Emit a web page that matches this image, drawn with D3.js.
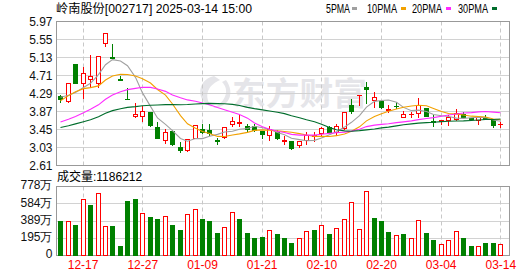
<!DOCTYPE html>
<html>
<head>
<meta charset="utf-8">
<script src="https://cdn.jsdelivr.net/npm/d3@7"></script>
<style>
  body { margin: 0; background: #fff; }
  svg { display: block; font-family: "Liberation Sans", "Noto Sans CJK SC", sans-serif; }
</style>
</head>
<body>
<div id="chart"></div>
<script>
// trading days shown (Dec 2024 - Mar 2025)
const dates = ["12-12","12-13","12-16","12-17","12-18","12-19","12-20","12-23","12-24","12-25",
  "12-26","12-27","12-30","12-31","01-02","01-03","01-06","01-07","01-08","01-09",
  "01-10","01-13","01-14","01-15","01-16","01-17","01-20","01-21","01-22","01-23",
  "01-24","01-27","02-05","02-06","02-07","02-10","02-11","02-12","02-13","02-14",
  "02-17","02-18","02-19","02-20","02-21","02-24","02-25","02-26","02-27","02-28",
  "03-03","03-04","03-05","03-06","03-07","03-10","03-11","03-12","03-13","03-14"];

const open  = [4.21,4.10,4.96,4.52,4.62,4.52,5.45,5.13,4.62,4.16, 3.76,3.76,3.84,3.50,3.19,3.41,3.03,2.95,3.25,3.44,
  3.42,3.19,3.27,3.57,3.58,3.53,3.51,3.40,3.32,3.38, 3.18,3.18,3.07,3.19,3.29,3.36,3.50,3.38,3.47,4.02,
  4.25,4.42,4.13,4.10,3.90,3.99,3.73,3.80,3.82,3.93, 3.63,3.64,3.67,3.68,3.80,3.70,3.65,3.72,3.65,3.56];
const high  = [4.26,4.54,5.00,4.92,5.20,5.16,5.68,5.45,4.72,4.44, 4.08,4.02,3.85,3.63,3.48,3.44,3.17,3.23,3.56,3.59,
  3.59,3.27,3.50,3.76,3.79,3.59,3.59,3.42,3.55,3.45, 3.31,3.19,3.19,3.41,3.41,3.51,3.54,3.59,3.85,4.17,
  4.25,4.58,4.34,4.10,4.03,4.10,3.90,3.88,4.19,3.95, 3.79,3.69,3.79,3.94,3.86,3.71,3.72,3.79,3.65,3.63];
const low   = [4.09,4.08,4.52,4.17,4.44,4.43,5.39,5.11,4.60,4.14, 3.72,3.63,3.51,3.24,3.13,3.07,2.92,2.93,3.24,3.35,
  3.32,3.09,3.25,3.51,3.51,3.40,3.40,3.25,3.19,3.21, 3.09,2.99,3.04,3.11,3.18,3.32,3.36,3.32,3.45,3.83,
  4.00,4.06,3.96,3.95,3.85,3.93,3.73,3.73,3.73,3.75, 3.51,3.57,3.55,3.66,3.70,3.66,3.57,3.68,3.50,3.50];
const close = [4.14,4.53,4.52,4.76,4.69,5.16,5.68,5.11,4.60,4.14, 3.80,3.87,3.54,3.25,3.38,3.09,2.95,3.22,3.55,3.38,
  3.36,3.17,3.50,3.63,3.62,3.45,3.42,3.34,3.45,3.25, 3.19,3.00,3.18,3.31,3.30,3.48,3.38,3.52,3.85,3.86,
  4.25,4.38,4.19,3.96,3.91,3.98,3.79,3.81,4.02,3.75, 3.62,3.65,3.73,3.83,3.72,3.69,3.72,3.68,3.55,3.57];
// volume, in 万 shares
const volume = [378,386,334,633,569,700,330,323,106,610, 633,476,431,401,442,334,277,461,517,408,
  386,252,315,483,408,252,196,207,282,241, 196,140,192,271,286,338,241,305,405,599,
  293,719,420,386,255,226,241,192,394,244, 173,129,173,274,196,106,103,140,140,118.6212];
// closes of the 29 sessions before the window, needed for the moving averages
const priorCloses = [3.23,3.25,3.23,3.26,3.18,3.24,3.20,3.28,3.22,3.25,
  3.25,3.20,3.06,3.10,3.05,3.08,3.12,3.10,3.15,3.20,
  3.34,3.60,4.05,4.45,4.75,4.30,4.20,4.18,4.20];

const priceTicks = [2.61, 3.03, 3.45, 3.87, 4.29, 4.71, 5.13, 5.55, 5.97];
const volTicks = [0, 194.5, 389, 583.5, 778];
const volTickLabels = ["0", "195万", "389万", "584万", "778万"];
const dateTicks = ["12-17","12-27","01-09","01-21","02-10","02-20","03-04","03-14"];
const maPeriods = [5, 10, 20, 30];
const maColors = ["#a0a0a0", "#f2a100", "#ff2bff", "#006d2c"];

const title = "岭南股份[002717] 2025-03-14 15:00";
const lastVolume = "成交量:1186212";

const W = 530, H = 276;
const left = 56.5, right = 509.5;
const priceTop = 21.5, priceBottom = 165.5;
const volTop = 186.5, volBottom = 255.5;
const Up = "#ff0000", Down = "#008000";

const svg = d3.select("#chart").append("svg")
    .attr("width", W)
    .attr("height", H);

const x = d3.scaleBand().domain(dates).range([57, 504.6]);
const y = d3.scaleLinear().domain([2.61, 5.97]).range([priceBottom, priceTop]);
const yv = d3.scaleLinear().domain([0, 778]).range([volBottom, volTop]);

const cx = d => Math.floor(x(d) + x.bandwidth() / 2) + 0.5;
const snap = v => Math.round(v - 0.5) + 0.5;

// watermark
const wm = svg.append("g").attr("fill", "#e5e5e9");
wm.append("path")
    .attr("d", "M214,76 C196,80 196,102 212,107 C204,98 206,86 220,80 Z M222,82 C230,90 226,102 213,108 C228,108 236,94 226,80 Z");
wm.append("text")
    .attr("x", 232).attr("y", 105)
    .attr("font-family", "Noto Sans CJK SC")
    .attr("font-weight", "bold")
    .attr("font-size", 32)
    .attr("textLength", 135)
    .attr("lengthAdjust", "spacingAndGlyphs")
    .text("东方财富");

// horizontal grid
svg.append("g").selectAll("line")
    .data(priceTicks).enter().append("line")
        .attr("x1", left).attr("x2", right)
        .attr("y1", d => snap(y(d))).attr("y2", d => snap(y(d)))
        .attr("stroke", "#d2d2d2");

svg.append("g").selectAll("line")
    .data(volTicks).enter().append("line")
        .attr("x1", left).attr("x2", right)
        .attr("y1", d => snap(yv(d))).attr("y2", d => snap(yv(d)))
        .attr("stroke", "#d2d2d2");

// vertical dashed grid
[[priceTop, priceBottom], [volTop, volBottom]].forEach(([t, b]) => {
    svg.append("g").selectAll("line")
        .data(dateTicks).enter().append("line")
            .attr("x1", cx).attr("x2", cx)
            .attr("y1", t).attr("y2", b)
            .attr("stroke", "#c8c8c8")
            .attr("stroke-dasharray", "4,3");
});

// frames
[[priceTop, priceBottom], [volTop, volBottom]].forEach(([t, b]) => {
    svg.append("rect")
        .attr("x", left).attr("y", t)
        .attr("width", right - left).attr("height", b - t)
        .attr("fill", "none")
        .attr("stroke", "#999");
});

// axes
const yAxis = svg.append("g")
    .attr("transform", "translate(" + left + ",0)")
    .call(d3.axisLeft(y).tickValues(priceTicks).tickFormat(d3.format(".2f")).tickSize(0).tickPadding(4));
yAxis.select(".domain").remove();
yAxis.selectAll("text").attr("font-size", 12).attr("fill", "#111").attr("font-family", null);

const vAxis = svg.append("g")
    .attr("transform", "translate(" + left + ",-1.5)")
    .call(d3.axisLeft(yv).tickValues(volTicks).tickFormat((d, i) => volTickLabels[i]).tickSize(0).tickPadding(4));
vAxis.select(".domain").remove();
vAxis.selectAll("text").attr("font-size", 12).attr("fill", "#111").attr("font-family", null);

const xAxis = svg.append("g")
    .attr("transform", "translate(0," + volBottom + ")")
    .call(d3.axisBottom(x).tickValues(dateTicks).tickSize(0).tickPadding(5));
xAxis.select(".domain").remove();
xAxis.selectAll("text").attr("font-size", 12).attr("fill", Up).attr("font-family", null);

// candles
const rows = dates.map((d, i) => ({
    date: d, o: open[i], h: high[i], l: low[i], c: close[i], v: volume[i],
    prev: i > 0 ? close[i - 1] : priorCloses[priorCloses.length - 1]
}));

const candle = svg.append("g").selectAll("g")
    .data(rows).enter().append("g")
        .attr("shape-rendering", "crispEdges");

candle.append("line")
    .attr("x1", d => cx(d.date)).attr("x2", d => cx(d.date))
    .attr("y1", d => snap(y(d.h))).attr("y2", d => snap(y(d.l)))
    .attr("stroke", d => d.c >= d.o ? Up : Down);

candle.each(function(d) {
    const g = d3.select(this);
    const t = snap(y(Math.max(d.o, d.c)));
    const b = snap(y(Math.min(d.o, d.c)));
    const col = d.c >= d.o ? Up : Down;
    if (b - t < 1) {
        g.append("line")
            .attr("x1", cx(d.date) - 2.5).attr("x2", cx(d.date) + 2.5)
            .attr("y1", t).attr("y2", t)
            .attr("stroke", col);
    } else {
        g.append("rect")
            .attr("x", cx(d.date) - 2).attr("y", t)
            .attr("width", 4).attr("height", b - t)
            .attr("fill", d.c >= d.o ? "#fff" : Down)
            .attr("stroke", col);
    }
});

// moving averages
const allCloses = priorCloses.concat(close);
function movingAvg(n) {
    return close.map((_, i) => {
        const end = priorCloses.length + i + 1;
        return d3.mean(allCloses.slice(end - n, end));
    });
}

const line = d3.line()
    .x((d, i) => cx(dates[i]))
    .y(d => y(d));

maPeriods.forEach((n, k) => {
    svg.append("path")
        .datum(movingAvg(n))
        .attr("d", line)
        .attr("fill", "none")
        .attr("stroke", maColors[k])
        .attr("stroke-width", 1.1);
});

// volume bars (coloured by change vs previous close)
svg.append("g").attr("shape-rendering", "crispEdges")
    .selectAll("rect")
    .data(rows).enter().append("rect")
        .attr("x", d => cx(d.date) - 2)
        .attr("y", d => snap(yv(d.v)))
        .attr("width", 4)
        .attr("height", d => volBottom - snap(yv(d.v)))
        .attr("fill", d => d.c >= d.prev ? "#fff" : Down)
        .attr("stroke", d => d.c >= d.prev ? Up : Down);

// texts
svg.append("text")
    .attr("x", 56).attr("y", 13)
    .attr("font-size", 12)
    .attr("textLength", 196)
    .attr("lengthAdjust", "spacingAndGlyphs")
    .text(title);

svg.append("text")
    .attr("x", 57).attr("y", 181)
    .attr("font-size", 12)
    .text(lastVolume);

// legend
const legendX = [326, 367, 412, 458];
maPeriods.forEach((n, k) => {
    svg.append("text")
        .attr("x", legendX[k]).attr("y", 13)
        .attr("font-size", 12)
        .attr("textLength", n < 10 ? 24 : 30)
        .attr("lengthAdjust", "spacingAndGlyphs")
        .text(n + "PMA");
    svg.append("rect")
        .attr("x", legendX[k] + (n < 10 ? 26 : 34)).attr("y", 7)
        .attr("width", 5).attr("height", 3)
        .attr("fill", maColors[k]);
});
</script>
</body>
</html>
